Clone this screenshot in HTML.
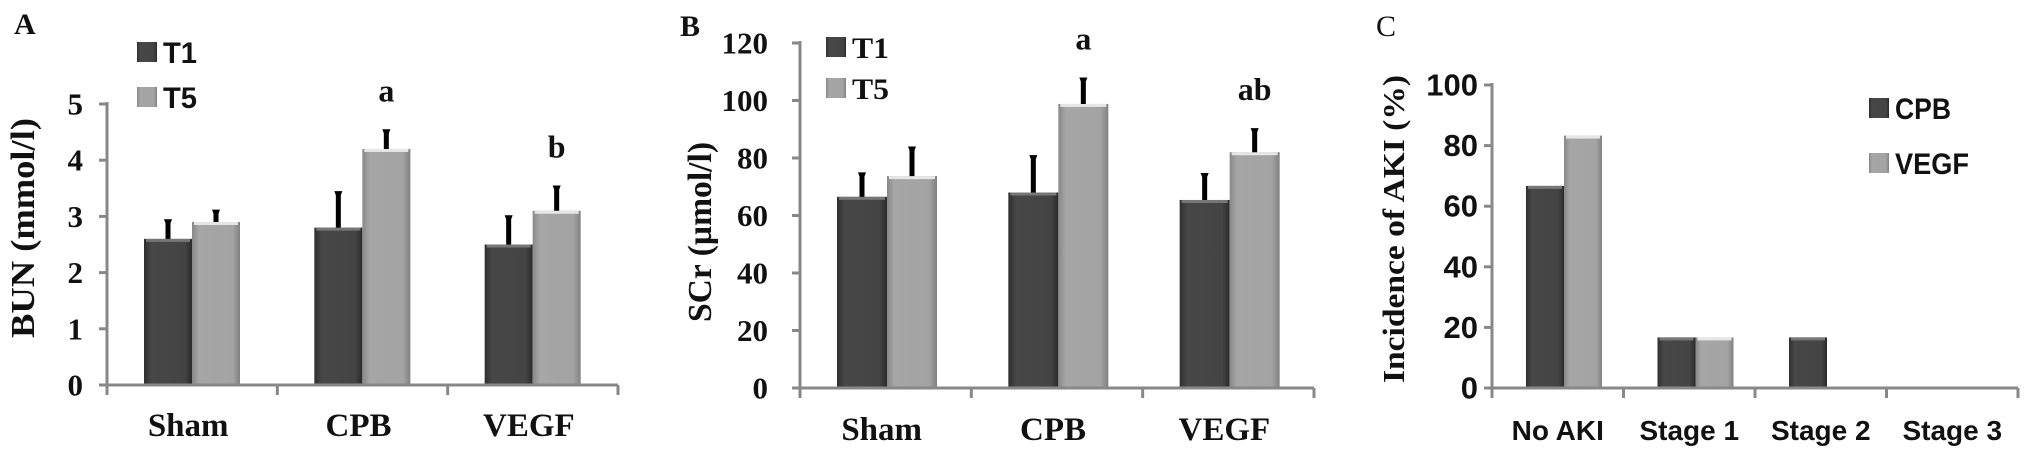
<!DOCTYPE html>
<html><head><meta charset="utf-8">
<style>
html,body{margin:0;padding:0;background:#fff;}
svg{display:block;}
.serif{font-family:"Liberation Serif",serif;font-weight:bold;fill:#111;}
.sans{font-family:"Liberation Sans Narrow","Liberation Sans",sans-serif;font-weight:bold;fill:#111;}
</style></head>
<body>
<svg id="fig" width="2031" height="458" viewBox="0 0 2031 458" xmlns="http://www.w3.org/2000/svg">
<defs>
<linearGradient id="gDark" x1="0" x2="1" y1="0" y2="0">
<stop offset="0" stop-color="#2e2e2e"/><stop offset="0.15" stop-color="#474747"/><stop offset="0.85" stop-color="#444"/><stop offset="1" stop-color="#2a2a2a"/></linearGradient>
<linearGradient id="gLight" x1="0" x2="1" y1="0" y2="0">
<stop offset="0" stop-color="#888"/><stop offset="0.15" stop-color="#a6a6a6"/><stop offset="0.85" stop-color="#a3a3a3"/><stop offset="1" stop-color="#808080"/></linearGradient>
</defs>
<g id="panels"></g>
</svg>
<script>
// Panel A data
const catsA = ["Sham","CPB","VEGF"];
const t1A = [2.6, 2.8, 2.5];
const t5A = [2.9, 4.2, 3.1];
const t1ErrA = [0.35, 0.65, 0.52];
const t5ErrA = [0.22, 0.35, 0.45];
const ticksA = [0,1,2,3,4,5];
const sigA = ["", "a", "b"];
// Panel B data
const catsB = ["Sham","CPB","VEGF"];
const t1B = [66.5, 68, 65.4];
const t5B = [73.7, 98.8, 82];
const t1ErrB = [8.5, 13, 9.4];
const t5ErrB = [10.3, 9.2, 8.4];
const ticksB = [0,20,40,60,80,100,120];
const sigB = ["", "a", "ab"];
// Panel C data
const catsC = ["No AKI","Stage 1","Stage 2","Stage 3"];
const cpbC = [66.7, 16.7, 16.7, 0];
const vegfC = [83.3, 16.7, 0, 0];
const ticksC = [0,20,40,60,80,100];

const NS = "http://www.w3.org/2000/svg";
const root = document.getElementById("panels");
function mk(tag, attrs, parent, text){
  const e = document.createElementNS(NS, tag);
  for (const k in attrs) e.setAttribute(k, attrs[k]);
  if (text !== undefined) e.textContent = text;
  (parent||root).appendChild(e);
  return e;
}

function panel(cfg){
  const g = mk("g", {});
  
  
  const y = v => cfg.y0 - (v - 0) / cfg.max * (cfg.y0 - cfg.yTop);
  const n = cfg.cats.length;
  const cw = (cfg.xEnd - cfg.x0) / n;
  const x = i => cfg.x0 + i * cw;
  // ticks + labels
  cfg.ticks.forEach(t => {
    const tk = mk("line", {x1:cfg.x0-8, x2:cfg.x0, y1:y(t), y2:y(t), stroke:"#888", "stroke-width":3}, g);
    
    
    const lb = mk("text", {x:cfg.x0-cfg.tickGap, y:y(t)+cfg.tickFs*0.34, "text-anchor":"end", class:cfg.tickCls, "font-size":cfg.tickFs}, g, String(t));
    
    
  });
  // bars
  cfg.series.forEach((s, si) => {
    s.vals.forEach((v, i) => {
      const bx = x(i) + cfg.barOff + si * cfg.bw;
      if (v > 0) {
        const r = mk("rect", {x:bx, y:y(v), width:cfg.bw, height:cfg.y0 - y(v), fill:s.fill}, g);
        
        
        mk("rect", {x:bx+2, y:y(v), width:cfg.bw-4, height:3, fill:s.key==="t5"||s.key==="vegf"?"#e6e6e6":"#777"}, g);
      }
      if (s.err) {
        const top = y(v + s.err[i]);
        const cx = bx + cfg.bw/2;
        const eb = mk("path", {d:`M${cx-2.5},${y(v)} L${cx-2.5},${top+4} L${cx-4},${top} L${cx+4},${top} L${cx+2.5},${top+4} L${cx+2.5},${y(v)} Z`, fill:"#000"}, g);
        
        
      }
    });
  });
  // axes
  const ya = mk("line", {x1:cfg.x0, x2:cfg.x0, y1:cfg.yTop-2, y2:cfg.y0+10, stroke:"#888", "stroke-width":3}, g);
  
  
  const xa = mk("line", {x1:cfg.x0-8, x2:cfg.xEnd, y1:cfg.y0, y2:cfg.y0, stroke:"#888", "stroke-width":3}, g);
  
  
  for (let i = 1; i <= n; i++) {
    mk("line", {x1:x(i), x2:x(i), y1:cfg.y0, y2:cfg.y0+10, stroke:"#888", "stroke-width":3}, g);
  }
  cfg.cats.forEach((c, i) => {
    const t = mk("text", {x:x(i)+cw/2+cfg.catDx, y:cfg.catY, "text-anchor":"middle", class:cfg.catCls, "font-size":cfg.catFs}, g, c);
    
    
  });
  if (cfg.sig) cfg.sig.forEach((s, i) => {
    if (!s) return;
    const s2 = cfg.series[1];
    const bx = x(i) + cfg.barOff + cfg.bw + cfg.bw/2;
    const t = mk("text", {x:bx, y:y(s2.vals[i] + s2.err[i]) - 28, "text-anchor":"middle", class:"serif", "font-size":32}, g, s);
    
    
  });
  return g;
}

function txt(attrs, s, name){
  const t = mk("text", attrs, root, s);
  
  
  return t;
}
function legend(x, y, fill, label, cls, w, name){
  const r = mk("rect", {x:x, y:y-10, width:20, height:20, fill:fill});
  
  
  const t = mk("text", {x:x+26, y:y+11, class:cls, "font-size":30, textLength:w, lengthAdjust:"spacingAndGlyphs"}, root, label);
  
  
}

// Panel A
panel({name:"panel-a", cats:catsA, x0:107, xEnd:618, y0:385, yTop:104, max:5, ticks:ticksA,
  tickCls:"serif", tickFs:31, tickGap:24, bw:48, barOff:37, catY:436, catFs:33, catCls:"serif", catDx:-4,
  series:[{key:"t1", vals:t1A, err:t1ErrA, fill:"url(#gDark)"},{key:"t5", vals:t5A, err:t5ErrA, fill:"url(#gLight)"}], sig:sigA});
txt({x:14, y:34, class:"serif", "font-size":30}, "A", "panel-a-title");
txt({x:0, y:0, class:"serif", "font-size":34, "text-anchor":"middle", transform:"translate(34,228) rotate(-90)", textLength:220, lengthAdjust:"spacingAndGlyphs"}, "BUN (mmol/l)", "y-axis-title-a");
legend(137, 52, "url(#gDark)", "T1", "sans", 34, "legend-t1-a");
legend(137, 97, "url(#gLight)", "T5", "sans", 34, "legend-t5-a");

// Panel B
panel({name:"panel-b", cats:catsB, x0:800, xEnd:1314, y0:388, yTop:43, max:120, ticks:ticksB,
  tickCls:"serif", tickFs:31, tickGap:32, bw:50, barOff:37, catY:440, catFs:33, catCls:"serif", catDx:-4,
  series:[{key:"t1", vals:t1B, err:t1ErrB, fill:"url(#gDark)"},{key:"t5", vals:t5B, err:t5ErrB, fill:"url(#gLight)"}], sig:sigB});
txt({x:680, y:36, class:"serif", "font-size":30}, "B", "panel-b-title");
txt({x:0, y:0, class:"serif", "font-size":34, "text-anchor":"middle", transform:"translate(711,232) rotate(-90)", textLength:180, lengthAdjust:"spacingAndGlyphs"}, "SCr (µmol/l)", "y-axis-title-b");
legend(826, 47, "url(#gDark)", "T1", "serif", 37, "legend-t1-b");
legend(826, 88, "url(#gLight)", "T5", "serif", 37, "legend-t5-b");

// Panel C
panel({name:"panel-c", cats:catsC, x0:1492, xEnd:2018, y0:388, yTop:85, max:100, ticks:ticksC,
  tickCls:"sans", tickFs:31, tickGap:14, bw:38, barOff:34, catY:440, catFs:28, catCls:"sans", catDx:0,
  series:[{key:"cpb", vals:cpbC, err:null, fill:"url(#gDark)"},{key:"vegf", vals:vegfC, err:null, fill:"url(#gLight)"}]});
txt({x:1376, y:36, class:"serif", "font-size":30, style:"font-weight:normal"}, "C", "panel-c-title");
txt({x:0, y:0, class:"serif", "font-size":31, "text-anchor":"middle", transform:"translate(1404,229) rotate(-90)", textLength:308, lengthAdjust:"spacingAndGlyphs"}, "Incidence of AKI (%)", "y-axis-title-c");
legend(1869, 108, "url(#gDark)", "CPB", "sans", 56, "legend-cpb-c");
legend(1869, 163, "url(#gLight)", "VEGF", "sans", 74, "legend-vegf-c");
</script>
</body></html>
